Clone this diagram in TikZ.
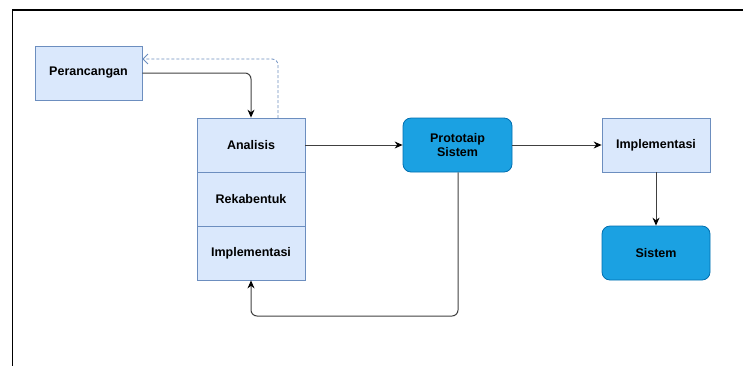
\documentclass[tikz,border=0pt]{standalone}
\usepackage{fontspec}
\setmainfont{Liberation Sans}
\usetikzlibrary{arrows.meta}
\definecolor{lightfill}{HTML}{DAE8FC}
\definecolor{lightline}{HTML}{6C8EBF}
\definecolor{bluefill}{HTML}{1BA1E2}
\definecolor{blueline}{HTML}{006EAF}
\tikzset{
  lightbox/.style={draw=lightline, fill=lightfill, line width=0.8pt, minimum width=108pt, minimum height=54pt, inner sep=0pt, font=\fontsize{12.5}{14}\selectfont\bfseries, text=black},
  bluebox/.style={draw=blueline, fill=bluefill, line width=0.8pt, rounded corners=8pt, minimum width=108pt, minimum height=54pt, inner sep=0pt, align=center, font=\fontsize{12.5}{14}\selectfont\bfseries, text=black},
  flow/.style={draw=black!75, line width=1pt, rounded corners=6pt, -{Stealth[length=8pt,width=7pt,color=black]}},
  backflow/.style={draw=lightline, line width=0.8pt, dashed, dash pattern=on 3pt off 2pt, rounded corners=6pt, -{Straight Barb[length=5pt,width=10pt]}}
}
\begin{document}
\begin{tikzpicture}[x=1pt,y=-1pt]
  \useasboundingbox (0,0) rectangle (743,365);
  % outer frame, running past the page edges
  \begin{scope}
    \clip (0,0) rectangle (743,365);
    \draw[line width=1.6pt] (760,10) -- (12.5,10) -- (12.5,380);
  \end{scope}

  \node[lightbox, minimum width=107pt] (per) at (88.5,73) {Perancangan};
  \node[lightbox] (ana) at (251,145) {Analisis};
  \node[lightbox] (rek) at (251,199) {Rekabentuk};
  \node[lightbox] (imp) at (251,253) {Implementasi};
  \node[bluebox, minimum width=109pt] (pro) at (457.5,145) {Prototaip\\Sistem};
  \node[lightbox] (imp2) at (656,145) {Implementasi};
  \node[bluebox] (sis) at (656,253) {Sistem};

  \coordinate (loopL) at (251,316);
  \coordinate (loopR) at (458,316);

  \draw[flow] (per.east) -- (251,73) -- (ana.north);
  \draw[backflow] (278,118) -- (278,59) -- (per.east |- 0,59);
  \draw[flow] (ana.east) -- (pro.west);
  \draw[flow] (pro.east) -- (imp2.west);
  \draw[flow] (imp2.south) -- (sis.north);
  \draw[flow] (pro.south -| loopR) -- (loopR) -- (loopL) -- (imp.south);
\end{tikzpicture}
\end{document}
